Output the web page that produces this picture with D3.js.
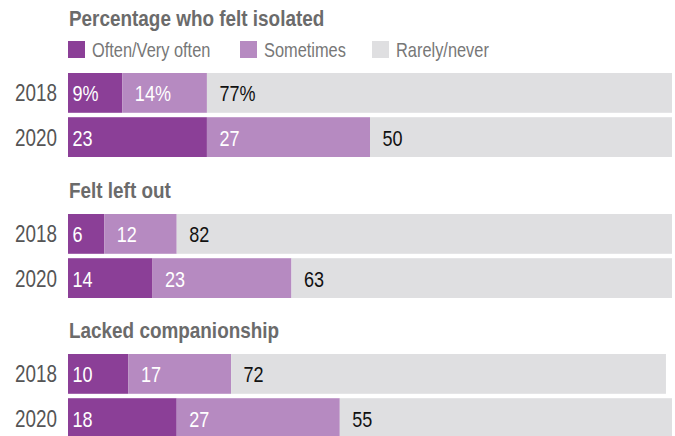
<!DOCTYPE html>
<html>
<head>
<meta charset="utf-8">
<script src="https://cdn.jsdelivr.net/npm/d3@7"></script>
<style>
  body { margin: 0; background: #fff; }
  svg { display: block; font-family: "Liberation Sans", Arial, sans-serif; }
</style>
</head>
<body>
<div id="chart"></div>
<script>
const groups = ["Percentage who felt isolated", "Felt left out", "Lacked companionship"];
const years = ["2018", "2020"];
const categories = ["Often/Very often", "Sometimes", "Rarely/never"];
const often = [[9, 23], [6, 14], [10, 18]];
const sometimes = [[14, 27], [12, 23], [17, 27]];
const rarely = [[77, 50], [82, 63], [72, 55]];

const width = 675;
const height = 436;
const colors = ["#8b3f97", "#b68ac1", "#dfdfe1"];
const labelColors = ["#fff", "#fff", "#111"];
const narrow = 0.82; // no condensed font installed, squeeze text instead

// top of the first bar in each group
const groupTop = [73, 214, 354];

const svg = d3
  .select("#chart")
  .append("svg")
  .attr("width", width)
  .attr("height", height);

// text squeezed horizontally around its anchor point
function label(parent, x, y, sx) {
  return parent
    .append("text")
    .attr("transform", `translate(${x}, ${y}) scale(${sx}, 1)`);
}

const xScale = d3.scaleLinear().domain([0, 100]).range([68, 672]);
const yScale = d3.scaleBand().domain(years).range([0, 84]).paddingInner(0.1);

groups.forEach((title, gi) => {
  const g = svg.append("g").attr("transform", `translate(0, ${groupTop[gi]})`);

  label(g, 69, gi === 0 ? -47.5 : -16.5, 0.86)
    .attr("fill", "#6b6b6b")
    .attr("font-weight", "bold")
    .attr("font-size", 22)
    .text(title);

  years.forEach((year, yi) => {
    const vals = [often[gi][yi], sometimes[gi][yi], rarely[gi][yi]];
    const starts = d3.cumsum([0, ...vals]).slice(0, 3);
    const row = g.append("g").attr("transform", `translate(0, ${yScale(year)})`);
    const bh = yScale.bandwidth();

    label(row, 57, bh / 2 + 8.5, narrow)
      .attr("text-anchor", "end")
      .attr("fill", "#555")
      .attr("font-size", 23)
      .text(year);

    row.selectAll("rect")
      .data(vals)
      .join("rect")
      .attr("x", (d, i) => xScale(starts[i]))
      .attr("y", 0)
      .attr("width", (d, i) => xScale(starts[i] + d) - xScale(starts[i]))
      .attr("height", bh)
      .attr("fill", (d, i) => colors[i]);

    vals.forEach((d, i) => {
      label(row, xScale(starts[i]) + (i === 0 ? 4.5 : 12.5), bh / 2 + 8.5, narrow)
        .attr("fill", labelColors[i])
        .attr("font-size", 22)
        .text(gi === 0 && yi === 0 ? d + "%" : d);
    });
  });
});

// legend
const legendX = [68, 240, 372];
const legend = svg.append("g");
categories.forEach((c, i) => {
  legend.append("rect")
    .attr("x", legendX[i])
    .attr("y", 41)
    .attr("width", 17)
    .attr("height", 17)
    .attr("fill", colors[i]);
  label(legend, legendX[i] + 24, 57, narrow)
    .attr("fill", "#777")
    .attr("font-size", 20)
    .text(c);
});
</script>
</body>
</html>
